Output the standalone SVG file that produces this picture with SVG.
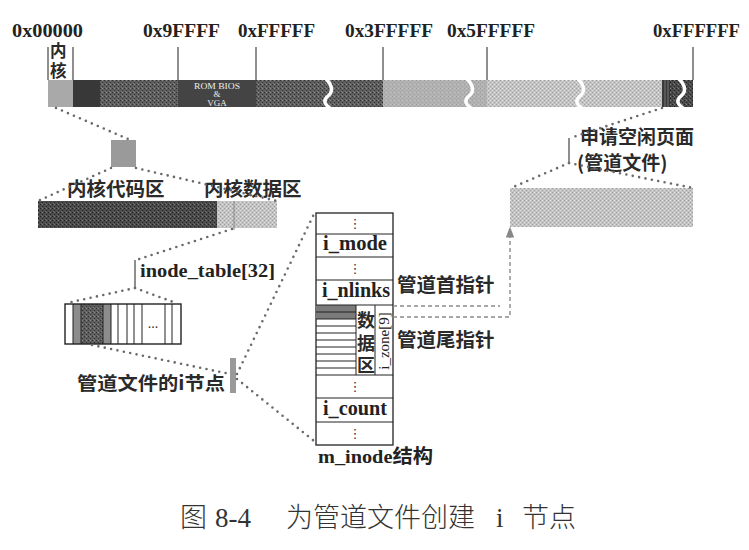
<svg xmlns="http://www.w3.org/2000/svg" width="749" height="550" viewBox="0 0 749 550">
<defs>
<pattern id="pd" width="4" height="4" patternUnits="userSpaceOnUse">
<rect width="4" height="4" fill="#5e5e5e"/>
<rect x="0" y="0" width="1" height="1" fill="#2f2f2f"/>
<rect x="2" y="2" width="1" height="1" fill="#333"/>
<rect x="2" y="0" width="1" height="1" fill="#8a8a8a"/>
<rect x="1" y="3" width="1" height="1" fill="#7a7a7a"/>
</pattern>
<pattern id="pk" width="4" height="4" patternUnits="userSpaceOnUse">
<rect width="4" height="4" fill="#4a4a4a"/>
<rect x="0" y="0" width="1" height="1" fill="#222"/>
<rect x="2" y="2" width="1" height="1" fill="#252525"/>
<rect x="2" y="0" width="1" height="1" fill="#777"/>
<rect x="1" y="3" width="1" height="1" fill="#6a6a6a"/>
</pattern>
<pattern id="pm" width="4" height="4" patternUnits="userSpaceOnUse">
<rect width="4" height="4" fill="#b2b2b2"/>
<rect x="0" y="0" width="1" height="1" fill="#999"/>
<rect x="2" y="2" width="1" height="1" fill="#9c9c9c"/>
<rect x="2" y="0" width="1" height="1" fill="#c8c8c8"/>
</pattern>
<pattern id="pl" width="4" height="4" patternUnits="userSpaceOnUse">
<rect width="4" height="4" fill="#c4c4c4"/>
<rect x="0" y="0" width="1" height="1" fill="#9a9a9a"/>
<rect x="2" y="2" width="1" height="1" fill="#a0a0a0"/>
<rect x="2" y="0" width="1" height="1" fill="#e2e2e2"/>
<rect x="0" y="2" width="1" height="1" fill="#dadada"/>
</pattern>
<marker id="arr" viewBox="0 0 8 8" refX="4" refY="4" markerWidth="8" markerHeight="8" orient="auto">
<path d="M0 1 L8 4 L0 7 z" fill="#888"/>
</marker>
<clipPath id="barclip"><rect x="40" y="80" width="660" height="27"/></clipPath>
</defs>
<style>
.lbl{font-family:"Liberation Serif","Noto Sans CJK SC",serif;font-weight:bold;fill:#222}
.cjk{font-family:"Noto Sans CJK SC","Liberation Sans",sans-serif;font-weight:bold;fill:#2a2a2a}
.dot{fill:none;stroke:#6a6a6a;stroke-width:2.6;stroke-dasharray:0 6.5;stroke-linecap:round}
.tick{stroke:#444;stroke-width:1.2}
.brk{fill:none;stroke:#fff;stroke-width:3.5}
.box{fill:#fff;stroke:#222;stroke-width:1.3}
.thin{stroke:#222;stroke-width:1;fill:none}
.dash{fill:none;stroke:#8a8a8a;stroke-width:1.4;stroke-dasharray:4 3}
.ell{font-family:"DejaVu Sans",sans-serif;font-size:13px;fill:#333}
.rom{font-family:"Liberation Serif",serif;font-size:9px;fill:#eee}
</style>
<rect width="749" height="550" fill="#fff"/>

<!-- memory bar -->
<g id="membar">
<g clip-path="url(#barclip)">
<rect x="48" y="80" width="25" height="27" fill="#a9a9a9"/>
<rect x="73" y="80" width="27" height="27" fill="#383838"/>
<rect x="100" y="80" width="78" height="27" fill="url(#pd)"/>
<rect x="178" y="80" width="78" height="27" fill="#444"/>
<rect x="256" y="80" width="127" height="27" fill="url(#pd)"/>
<rect x="383" y="80" width="104" height="27" fill="url(#pm)"/>
<rect x="487" y="80" width="175" height="27" fill="url(#pl)"/>
<rect x="662" y="80" width="8" height="27" fill="#3a3a3a"/>
<line x1="665" y1="80" x2="665" y2="107" stroke="#777" stroke-width="1"/>
<line x1="668" y1="80" x2="668" y2="107" stroke="#777" stroke-width="1"/>
<rect x="670" y="80" width="23" height="27" fill="url(#pk)"/>
<text class="rom" x="217" y="88.5" text-anchor="middle" textLength="46" lengthAdjust="spacingAndGlyphs">ROM BIOS</text>
<text class="rom" x="217" y="97" text-anchor="middle">&amp;</text>
<text class="rom" x="217" y="106" text-anchor="middle">VGA</text>
</g>
<path class="brk" d="M326 79 C333 86,333 92,328 96 C323 100,324 104,330 108"/>
<path class="brk" d="M467 79 C474 86,474 92,469 96 C464 100,465 104,471 108"/>
<path class="brk" d="M578 79 C585 86,585 92,580 96 C575 100,576 104,582 108"/>
<path class="brk" d="M679 79 C686 86,686 92,681 96 C676 100,677 104,683 108"/>
</g>

<g id="ticks">
<line class="tick" x1="48" y1="47" x2="48" y2="80"/>
<line class="tick" x1="73" y1="47" x2="73" y2="80"/>
<line class="tick" x1="178" y1="47" x2="178" y2="80"/>
<line class="tick" x1="256" y1="47" x2="256" y2="80"/>
<line class="tick" x1="383" y1="47" x2="383" y2="80"/>
<line class="tick" x1="487" y1="47" x2="487" y2="80"/>
<line class="tick" x1="693" y1="47" x2="693" y2="80"/>
</g>

<g id="addr-labels" class="lbl" font-size="19">
<text x="12" y="37" textLength="71" lengthAdjust="spacingAndGlyphs">0x00000</text>
<text x="143" y="37" textLength="77" lengthAdjust="spacingAndGlyphs">0x9FFFF</text>
<text x="238" y="37" textLength="77" lengthAdjust="spacingAndGlyphs">0xFFFFF</text>
<text x="345" y="37" textLength="88" lengthAdjust="spacingAndGlyphs">0x3FFFFF</text>
<text x="447" y="37" textLength="88" lengthAdjust="spacingAndGlyphs">0x5FFFFF</text>
<text x="653" y="37" textLength="87" lengthAdjust="spacingAndGlyphs">0xFFFFFF</text>
</g>
<g id="kernel-label" class="cjk" font-size="16.5">
<text x="50" y="57">内</text>
<text x="50" y="77">核</text>
</g>

<g id="kernel-square"><rect x="111" y="140" width="25" height="27" fill="#9a9a9a"/></g>

<g id="kernel-bar">
<rect x="38" y="201" width="179" height="27" fill="url(#pk)"/>
<rect x="217" y="201" width="60" height="27" fill="url(#pl)"/>
<line x1="234" y1="201" x2="234" y2="230" stroke="#888" stroke-width="1"/>
<text class="cjk" x="67" y="196" font-size="19.5">内核代码区</text>
<text class="cjk" x="204" y="196" font-size="19.5">内核数据区</text>
</g>

<g id="inode-table">
<line class="tick" x1="135" y1="260" x2="135" y2="288"/>
<text class="lbl" x="140" y="277" font-size="19.5" textLength="135" lengthAdjust="spacingAndGlyphs">inode_table[32]</text>
<rect x="73" y="304" width="8" height="40" fill="#8c8c8c"/>
<rect x="81" y="304" width="22" height="40" fill="url(#pd)"/>
<rect x="103" y="304" width="8" height="40" fill="#8c8c8c"/>
<rect x="65" y="304" width="116" height="40" fill="none" stroke="#222" stroke-width="1.4"/>
<g class="thin">
<line x1="73" y1="304" x2="73" y2="344"/>
<line x1="81" y1="304" x2="81" y2="344"/>
<line x1="103" y1="304" x2="103" y2="344"/>
<line x1="111" y1="304" x2="111" y2="344"/>
<line x1="118" y1="304" x2="118" y2="344"/>
<line x1="127" y1="304" x2="127" y2="344"/>
<line x1="134" y1="304" x2="134" y2="344"/>
<line x1="142" y1="304" x2="142" y2="344"/>
<line x1="165" y1="304" x2="165" y2="344"/>
<line x1="172" y1="304" x2="172" y2="344"/>
</g>
<text x="153" y="328" text-anchor="middle" font-family="Liberation Serif" font-size="14" fill="#333">...</text>
</g>

<g id="pipe-inode">
<rect x="230" y="358" width="6" height="35" fill="#9a9a9a"/>
<text class="cjk" x="77" y="390" font-size="18.5" textLength="148" lengthAdjust="spacingAndGlyphs">管道文件的i节点</text>
</g>

<g id="m-inode">
<rect x="316" y="213" width="77" height="232" class="box"/>
<rect x="316" y="305" width="40" height="14" fill="#7a7a7a"/>
<g class="thin">
<line x1="316" y1="234" x2="393" y2="234"/>
<line x1="316" y1="257" x2="393" y2="257"/>
<line x1="316" y1="280" x2="393" y2="280"/>
<line x1="316" y1="305" x2="393" y2="305"/>
<line x1="316" y1="375" x2="393" y2="375"/>
<line x1="316" y1="398" x2="393" y2="398"/>
<line x1="316" y1="422" x2="393" y2="422"/>
<line x1="356" y1="305" x2="356" y2="375"/>
<line x1="375" y1="305" x2="375" y2="375"/>
<line x1="316" y1="312" x2="356" y2="312"/>
<line x1="316" y1="319" x2="356" y2="319"/>
<line x1="316" y1="326" x2="356" y2="326"/>
<line x1="316" y1="333" x2="356" y2="333"/>
<line x1="316" y1="340" x2="356" y2="340"/>
<line x1="316" y1="347" x2="356" y2="347"/>
<line x1="316" y1="354" x2="356" y2="354"/>
<line x1="316" y1="361" x2="356" y2="361"/>
<line x1="316" y1="368" x2="356" y2="368"/>
</g>
<text class="ell" x="355" y="228" text-anchor="middle">⋮</text>
<text class="ell" x="355" y="273" text-anchor="middle">⋮</text>
<text class="ell" x="355" y="391" text-anchor="middle">⋮</text>
<text class="ell" x="355" y="438" text-anchor="middle">⋮</text>
<text class="lbl" x="323" y="250" font-size="20" textLength="64" lengthAdjust="spacingAndGlyphs">i_mode</text>
<text class="lbl" x="322" y="297" font-size="20" textLength="68" lengthAdjust="spacingAndGlyphs">i_nlinks</text>
<text class="lbl" x="323" y="415" font-size="20" textLength="64" lengthAdjust="spacingAndGlyphs">i_count</text>
<text class="cjk" x="357" y="327" font-size="18">数</text>
<text class="cjk" x="357" y="350" font-size="18">据</text>
<text class="cjk" x="357" y="372" font-size="18">区</text>
<text transform="translate(389,341) rotate(-90)" text-anchor="middle" font-family="Liberation Serif" font-size="15" fill="#222">i_zone[9]</text>
<text class="lbl" x="318" y="463" font-size="19" textLength="115" lengthAdjust="spacingAndGlyphs">m_inode结构</text>
</g>

<g id="pointer-labels" class="cjk" font-size="19.5">
<text x="397" y="292">管道首指针</text>
<text x="397" y="347">管道尾指针</text>
</g>

<g id="pipe-page">
<rect x="510" y="188" width="183" height="39" fill="url(#pl)"/>
<line class="tick" x1="569" y1="138" x2="569" y2="163"/>
<text class="cjk" x="580" y="144" font-size="19">申请空闲页面</text>
<text class="cjk" x="577" y="170" font-size="19">(管道文件)</text>
</g>

<g id="connectors">
<path class="dot" d="M56 108 L128 139"/>
<path class="dot" d="M111 168 L38 201"/>
<path class="dot" d="M136 168 L277 201"/>
<path class="dot" d="M232 229 L136 260"/>
<path class="dot" d="M135 288 L67 303"/>
<path class="dot" d="M135 288 L176 303"/>
<path class="dot" d="M92 345 L230 374"/>
<path class="dot" d="M237 374 L314 214"/>
<path class="dot" d="M237 379 L314 441"/>
<path class="dot" d="M662 108 L570 138"/>
<path class="dot" d="M569 163 L511 188"/>
<path class="dot" d="M569 163 L693 188"/>
<path class="dash" d="M393 306 L500 306"/>
<path class="dash" d="M393 317 L510 317 L510 232" marker-end="url(#arr)"/>
</g>

<g id="caption" font-family="Liberation Serif,Noto Sans CJK SC,serif" font-size="27" fill="#333">
<text x="180" y="527" font-family="Noto Sans CJK SC,sans-serif" font-weight="300">图</text>
<text x="215" y="527" font-family="Liberation Serif,serif">8-4</text>
<text x="286" y="527" font-family="Noto Sans CJK SC,sans-serif" font-weight="300">为管道文件创建</text>
<text x="496" y="527" font-family="Liberation Serif,serif">i</text>
<text x="522" y="527" font-family="Noto Sans CJK SC,sans-serif" font-weight="300">节点</text>
</g>
</svg>
